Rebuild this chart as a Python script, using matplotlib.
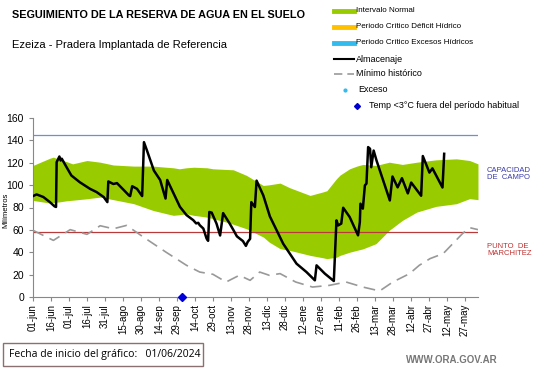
import matplotlib
matplotlib.use('Agg')
import matplotlib.pyplot as plt
from matplotlib.lines import Line2D
from matplotlib.patches import Rectangle
import numpy as np

plt.rcParams['font.family'] = ['Liberation Sans', 'DejaVu Sans']

# days since 01/06/2024
band_days = [0, 14, 17, 22, 28, 33, 45, 56, 67, 84, 100, 111, 117, 122, 128, 134, 145,
             150, 161, 167, 178, 192, 197, 206, 214, 231, 242, 245, 253, 256, 264, 270,
             275, 286, 297, 308, 320, 336, 353, 364, 371]
band_upper = [117.6, 124, 125, 123, 121, 119, 122, 120.5, 118, 117, 117, 116, 115.5, 114.6,
              115.5, 116, 115.5, 114.6, 114, 113.7, 108.7, 99.7, 100.3, 101.8, 97.7, 90.8,
              94, 95, 105.7, 109, 114.6, 117, 118.5, 117.6, 120.5, 118.5, 120.5, 122.6,
              123.5, 122, 119]
band_lower = [86.3, 84, 84.5, 85, 86, 86.5, 87.8, 89.3, 87, 83.4, 77.4, 74.5, 73, 73.5,
              74.4, 73, 71.4, 70, 67, 65, 61, 53.6, 49, 43.2, 41.7, 37.2, 35, 34.3, 35.5,
              37.2, 40, 41.7, 43, 47.7, 59.6, 68.5, 75.9, 81, 83.4, 87.9, 87]

min_days = [0, 17, 31, 45, 56, 67, 78, 92, 111, 128, 139, 150, 161, 172, 181, 189, 197,
            206, 219, 233, 247, 261, 275, 289, 300, 314, 322, 331, 342, 350, 358, 364, 371]
min_hist = [59.6, 50.6, 60.2, 56, 63.7, 61, 64, 53.6, 40, 28.3, 22.3, 20.3, 13.4, 19.4,
            14.9, 22.3, 19.4, 20.9, 13.4, 8.9, 10.4, 13.4, 8.9, 5.4, 13.4, 20.9, 28.3,
            34.3, 38.8, 47.7, 56.6, 62, 60.2]

alm_days = [0, 3, 8.6, 14, 18, 19.2, 19.7, 22, 23, 24, 28, 32, 39, 47.5, 53, 59, 62, 62.8,
            67, 70, 75.5, 80, 81, 82.7, 86.7, 91, 92.5, 95, 100.8, 106, 110.5, 111.9,
            122.5, 128, 133.6, 136, 137.8, 139, 142, 144.7, 146, 147, 149, 153, 156,
            158.5, 164, 167, 170, 175, 177.5, 179, 181, 182, 185, 186.4, 192, 197.5,
            208.6, 219.7, 228, 235, 236.4, 243.3, 250.8, 253, 254.4, 257, 258.6, 264,
            271, 272.5, 273, 275, 276.7, 278, 279.4, 281, 282, 284, 286.4, 292, 297.5,
            299.7, 304, 307.6, 312.5, 315.3, 323.6, 325, 330.5, 333, 341.4, 342.8]
almacenaje = [90.2, 91.7, 89.4, 84.9, 81, 80.5, 120.5, 125.6, 122, 123.6, 116, 108.6,
              102.6, 96.7, 93.8, 89.3, 84.8, 103.3, 101, 101.8, 95.8, 90.8, 90.2, 99,
              96.7, 90.2, 138.4, 131, 113, 104.6, 88, 104.6, 80.6, 73.2, 68.7, 65.8, 66.3,
              64.2, 61.2, 52.3, 50.2, 76, 75.4, 65.6, 55, 75, 65.6, 60, 54.2, 50, 45.7,
              49.3, 52, 84.8, 80.4, 104, 90.8, 72, 47.6, 29.8, 22.3, 14.9, 28.3, 20.9,
              14.3, 68.5, 64, 65.6, 79.8, 71.5, 55.1, 67, 83.4, 79, 99.8, 101.3, 134,
              132.5, 116, 130.9, 122, 104, 86.3, 107.7, 98, 106.2, 92.6, 102.3, 90.5,
              126, 111.2, 115, 97.9, 128]

frost_days = [124]
frost_vals = [0]

capacidad_campo = 145
punto_marchitez = 58

tick_labels = ['01-jun', '16-jun', '01-jul', '16-jul', '31-jul', '15-ago', '30-ago',
               '14-sep', '29-sep', '14-oct', '29-oct', '13-nov', '28-nov', '13-dic',
               '28-dic', '12-ene', '27-ene', '11-feb', '26-feb', '13-mar', '28-mar',
               '12-abr', '27-abr', '12-may', '27-may']
tick_pos = np.arange(len(tick_labels)) * 15

fig = plt.figure(figsize=(5.41, 3.68), dpi=100)
ax = fig.add_axes([33 / 541, 1 - 297 / 368, 445 / 541, 179 / 368])

green = '#99cc00'
ax.fill_between(band_days, band_lower, band_upper, color=green, lw=0, zorder=1)
ax.axhline(capacidad_campo, color='#6f8fd0', lw=0.9, zorder=2)
ax.axhline(punto_marchitez, color='#b83a3a', lw=0.9, zorder=2)
ax.plot(min_days, min_hist, color='#999999', lw=1.2, ls=(0, (7, 4)), zorder=3)
ax.plot(alm_days, almacenaje, color='black', lw=1.8, zorder=4)
ax.plot(frost_days, frost_vals, 'D', color='#0000dd', ms=4, zorder=5, clip_on=False)

ax.set_xlim(0, 371)
ax.set_ylim(0, 160)
ax.set_yticks(range(0, 161, 20))
ax.set_xticks(tick_pos)
ax.set_xticklabels(tick_labels, rotation=90, fontsize=7)
ax.tick_params(axis='y', labelsize=7.5, length=3, color='#888888')
ax.tick_params(axis='x', length=3, color='#888888', pad=2)
for s in ['top', 'right']:
    ax.spines[s].set_visible(False)
for s in ['left', 'bottom']:
    ax.spines[s].set_color('#888888')
fig.text(6 / 541, 1 - 210 / 368, 'Milímetros', fontsize=5.5, rotation=90,
         ha='center', va='center')

fig.text(12 / 541, 1 - 15 / 368, 'SEGUIMIENTO DE LA RESERVA DE AGUA EN EL SUELO',
         fontsize=7.8, fontweight='bold', va='center')
fig.text(12 / 541, 1 - 45 / 368, 'Ezeiza - Pradera Implantada de Referencia',
         fontsize=8, va='center')

# legend
leg = [('patch', green, 'Intervalo Normal'),
       ('patch', '#ffc000', 'Periodo Crítico Déficit Hídrico'),
       ('patch', '#33bbee', 'Periodo Crítico Excesos Hídricos'),
       ('line', 'black', 'Almacenaje'),
       ('dash', '#999999', 'Mínimo histórico'),
       ('dot', '#33bbee', 'Exceso'),
       ('diamond', '#0000cc', 'Temp <3°C fuera del período habitual')]
ys = [11, 27, 43, 59, 74, 90, 106]
for (kind, col, lab), yy in zip(leg, ys):
    yf = 1 - yy / 368
    x0, x1 = 334 / 541, 354 / 541
    tx = 356 / 541
    if kind == 'patch':
        fig.add_artist(Line2D([x0, x1], [yf, yf], color=col, lw=3.5))
    elif kind == 'line':
        fig.add_artist(Line2D([x0, x1], [yf, yf], color=col, lw=1.5))
    elif kind == 'dash':
        fig.add_artist(Line2D([x0, x1], [yf, yf], color=col, lw=1.2, ls=(0, (5, 3))))
    elif kind == 'dot':
        fig.add_artist(Line2D([345 / 541], [yf], marker='o', ms=2, color=col))
        tx = 358 / 541
    else:
        fig.add_artist(Line2D([357 / 541], [yf], marker='D', ms=3, color=col))
        tx = 369 / 541
    fig.text(tx, yf, lab, fontsize=5.8 if kind == 'patch' else 6.5, va='center')

fig.text(487 / 541, 1 - 174 / 368, 'CAPACIDAD\nDE  CAMPO', fontsize=5.5, color='#3a3aa8',
         va='center', linespacing=1.1)
fig.text(487 / 541, 1 - 250 / 368, 'PUNTO  DE\nMARCHITEZ', fontsize=5.5, color='#c03030',
         va='center', linespacing=1.1)

fig.add_artist(Rectangle((3 / 541, 1 - 366 / 368), 200 / 541, 23 / 368, fill=False,
                         ec='#8a7070', lw=1, transform=fig.transFigure))
fig.text(9 / 541, 1 - 355 / 368, 'Fecha de inicio del gráfico:   01/06/2024', fontsize=7.5,
         va='center', family=['Open Sans', 'DejaVu Sans'])
fig.text(498 / 541, 1 - 360 / 368, 'WWW.ORA.GOV.AR', fontsize=7, color='#777777',
         fontweight='bold', va='center', ha='right')

fig.savefig('out.png', dpi=100)
